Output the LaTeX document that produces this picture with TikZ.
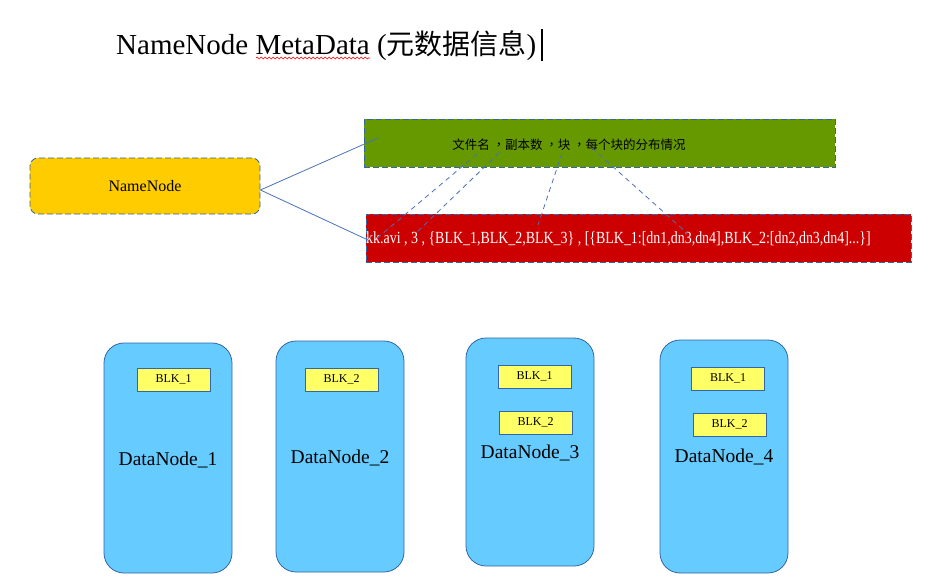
\documentclass[tikz,border=0pt]{standalone}
\usepackage{fontspec}
\setmainfont{Liberation Serif}
\newfontfamily\cjk{Noto Sans CJK SC}
\newfontfamily\cjktc{Noto Sans CJK TC}
\newfontfamily\condserif[FakeStretch=0.82]{Liberation Serif}
\usetikzlibrary{positioning,decorations.pathmorphing}
\definecolor{edgeblue}{HTML}{3465A4}
\definecolor{linkblue}{HTML}{4A72B8}
\definecolor{nnyellow}{HTML}{FFCC00}
\definecolor{metagreen}{HTML}{669900}
\definecolor{metared}{HTML}{CC0000}
\definecolor{dnblue}{HTML}{66CCFF}
\definecolor{blkyellow}{HTML}{FFFF66}
\newcommand{\cjkcomma}{{\cjktc ，}}
\tikzset{
  namebox/.style={
    rectangle, rounded corners=8pt, draw=edgeblue, fill=nnyellow,
    line width=0.8pt, dash pattern=on 6pt off 3pt,
    minimum width=230pt, minimum height=56pt,
    font=\fontsize{16}{19}\selectfont
  },
  metabox/.style={
    rectangle, draw=edgeblue, fill=#1, line width=0.8pt,
    dash pattern=on 6pt off 3pt, inner sep=0pt
  },
  metabox/.default=metagreen,
  datanode/.style={
    rectangle, rounded corners=20pt, draw=edgeblue, fill=dnblue,
    line width=0.8pt, minimum width=128pt, minimum height=230pt
  },
  blkbox/.style={
    rectangle, draw=edgeblue, fill=blkyellow, line width=0.6pt,
    minimum width=73pt, minimum height=23pt, inner sep=0pt,
    font=\fontsize{12}{14}\selectfont
  },
  dnlabel/.style={
    anchor=base, inner sep=0pt, font=\fontsize{19.5}{23}\selectfont
  },
  link/.style={draw=linkblue, line width=0.8pt},
  maplink/.style={draw=linkblue, line width=0.8pt, dash pattern=on 5pt off 4pt},
}

\begin{document}
\begin{tikzpicture}[x=1pt, y=-1pt]
    \useasboundingbox (0,0) rectangle (935,583);

    % Title
    \node[anchor=base west, inner sep=0pt, font=\fontsize{29}{34}\selectfont] (title)
        at (116,55) {NameNode MetaData ({\cjk\fontsize{28}{33}\selectfont 元数据信息})};
    \draw[red, line width=0.6pt, decorate,
          decoration={snake, amplitude=1pt, segment length=4pt}] (256,58) -- (370,58);
    \draw[line width=1.5pt] (542,29) -- (542,61);

    % NameNode
    \node[namebox] (namenode) at (145,186) {NameNode};

    % Metadata boxes
    \node[metabox, minimum width=471pt, minimum height=48pt] (meta) at (599.5,143) {};
    \node[anchor=center, inner sep=0pt, font=\cjk\fontsize{12.5}{15}\selectfont] (metatext)
        at (569,145) {文件名 \cjkcomma 副本数 \cjkcomma 块 \cjkcomma 每个块的分布情况};
    \node[metabox=metared, minimum width=545pt, minimum height=48pt] (record) at (638.5,238) {};
    \node[anchor=base west, inner sep=0pt, text=white, font=\condserif\fontsize{17}{20}\selectfont] (recordtext)
        at (366,243) {kk.avi , 3 , \{BLK\_1,BLK\_2,BLK\_3\} , [\{BLK\_1:[dn1,dn3,dn4],BLK\_2:[dn2,dn3,dn4]...\}]};

    % NameNode to metadata
    \coordinate (gin) at (378,138);
    \coordinate (rin) at (368,240);
    \draw[link] ([yshift=-4pt]namenode.east) -- (gin);
    \draw[link] ([yshift=-4pt]namenode.east) -- (rin);

    % header to record fields
    \coordinate (gname) at (477,154);  \coordinate (rname) at (375,240);
    \coordinate (grep) at (499,153);   \coordinate (rrep) at (416,233);
    \coordinate (gblk) at (562,153);   \coordinate (rblk) at (538,225);
    \coordinate (gdist) at (592,148);  \coordinate (rdist) at (687,233);
    \draw[maplink] (gname) -- (rname);
    \draw[maplink] (grep) -- (rrep);
    \draw[maplink] (gblk) -- (rblk);
    \draw[maplink] (gdist) -- (rdist);

    % DataNodes
    \node[datanode] (dn1) at (168,458) {};
    \node[blkbox] (dn1b1) at (173.5,379.5) {BLK\_1};
    \node[dnlabel] (dn1l) at (168,465) {DataNode\_1};

    \node[datanode, minimum height=231pt] (dn2) at (340,456.5) {};
    \node[blkbox] (dn2b2) at (341.5,379.5) {BLK\_2};
    \node[dnlabel] (dn2l) at (340,463) {DataNode\_2};

    \node[datanode, minimum height=228pt] (dn3) at (530,452) {};
    \node[blkbox] (dn3b1) at (534.5,376.5) {BLK\_1};
    \node[blkbox] (dn3b2) at (535.5,422.5) {BLK\_2};
    \node[dnlabel] (dn3l) at (530,458) {DataNode\_3};

    \node[datanode, minimum height=233pt] (dn4) at (724,456.5) {};
    \node[blkbox] (dn4b1) at (728,378.5) {BLK\_1};
    \node[blkbox] (dn4b2) at (729.5,424.5) {BLK\_2};
    \node[dnlabel] (dn4l) at (724,462) {DataNode\_4};
\end{tikzpicture}
\end{document}
